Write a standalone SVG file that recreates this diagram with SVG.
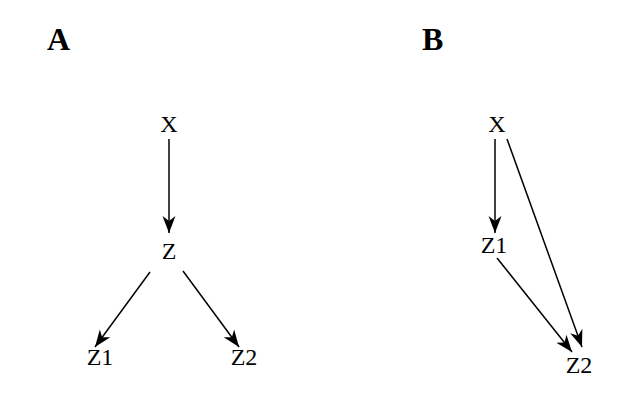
<svg xmlns="http://www.w3.org/2000/svg" width="643" height="414" viewBox="0 0 643 414">
<style>
.lbl{font-family:"Liberation Serif","Times New Roman",serif;font-size:24px;fill:#000;text-anchor:middle}
.pan{font-family:"Liberation Serif","Times New Roman",serif;font-size:32px;font-weight:bold;fill:#000}
.edge{stroke:#000;stroke-width:1.5;fill:none;marker-end:url(#ah)}
</style>
<defs>
<marker id="ah" markerUnits="userSpaceOnUse" markerWidth="20" markerHeight="16" viewBox="-18 -8 19 16" refX="0" refY="0" orient="auto">
<path d="M0,0 L-17,-6.5 L-12,0 L-17,6.5 Z" fill="#000"/>
</marker>
</defs>
<rect width="643" height="414" fill="#fff"/>
<text class="pan" x="47" y="50">A</text>
<text class="pan" x="422" y="50">B</text>
<g id="edges">
<line class="edge" x1="169" y1="139" x2="169" y2="233"/>
<line class="edge" x1="150" y1="272" x2="95" y2="347"/>
<line class="edge" x1="183" y1="271" x2="239" y2="347"/>
<line class="edge" x1="495" y1="139" x2="495" y2="233"/>
<line class="edge" x1="497" y1="258" x2="572" y2="352"/>
<line class="edge" x1="507" y1="139" x2="582" y2="347"/>
</g>
<g id="A-X"><text class="lbl" x="169" y="132">X</text></g>
<g id="A-Z"><text class="lbl" x="169" y="259">Z</text></g>
<g id="A-Z1"><text class="lbl" x="100" y="365">Z1</text></g>
<g id="A-Z2"><text class="lbl" x="244" y="365">Z2</text></g>
<g id="B-X"><text class="lbl" x="497" y="132">X</text></g>
<g id="B-Z1"><text class="lbl" x="494" y="253">Z1</text></g>
<g id="B-Z2"><text class="lbl" x="579" y="373">Z2</text></g>
</svg>
